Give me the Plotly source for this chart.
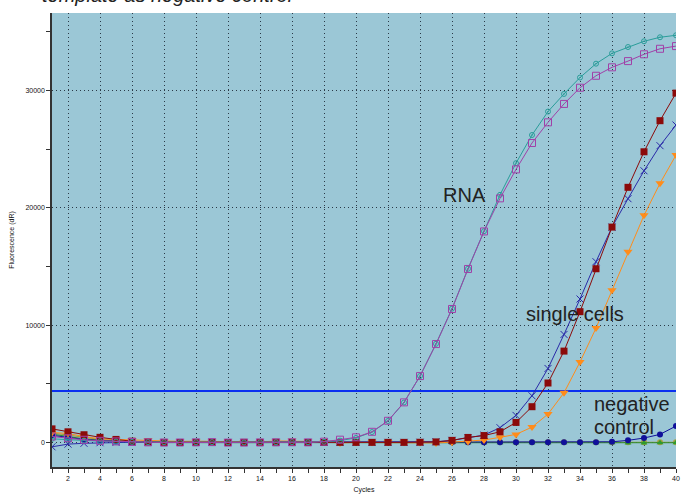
import plotly.graph_objects as go

cycles = list(range(1, 41))

rna_a = [300, 220, 150, 100, 70, 40, 20, 10, 0, 10, 20, 0, -10, 0, 10, 20, 10, 50, 150, 380,
         880, 1820, 3400, 5650, 8400, 11400, 14800, 18000, 21100, 23800,
         26200, 28200, 29700, 31100, 32280, 33160, 33700, 34190, 34530, 34700]
rna_b = [500, 350, 220, 130, 80, 30, 0, -20, -10, 0, 20, -20, -20, -10, 0, 10, 0, 60, 230, 430,
         900, 1840, 3410, 5650, 8380, 11370, 14780, 17980, 20800, 23270,
         25520, 27280, 28850, 30230, 31250, 31970, 32500, 33080, 33550, 33780]
cell_a = [1150, 900, 650, 430, 250, 100, 30, 0, -10, 0, 10, -10, 0, 0, 10, 0, -10, 0, 0, 0,
          0, 0, 0, 10, 40, 170, 420, 580, 900, 1700,
          3040, 5060, 7780, 11140, 14800, 18350, 21740, 24770, 27420, 29770]
cell_b = [-380, -150, -80, -30, 0, 10, 0, 0, 0, 0, 0, 0, 0, 0, 0, 0, 0, 0, 0, 0,
          0, 0, 0, 10, 50, 170, 370, 620, 1250, 2300,
          3970, 6300, 9200, 12220, 15400, 18350, 20770, 23150, 25290, 27050]
cell_c = [850, 750, 500, 300, 250, 200, 150, 120, 80, 100, 80, 50, 30, 30, 120, 130, 80, 30, -50, 0,
          0, 0, 0, -20, -50, 20, 80, 200, 430, 680,
          1300, 2410, 4230, 6850, 9740, 12960, 16250, 19350, 22080, 24490]
neg_a = [600, 400, 250, 150, 80, 30, 10, 0, 0, 0, 0, 0, 0, 0, 0, 0, 0, 0, 0, 0,
         0, 0, 0, 0, 0, 0, 0, 0, 0, 0,
         0, 0, 0, 0, 10, 50, 170, 370, 680, 1390]
neg_b = [700, 500, 300, 180, 100, 50, 0, -20, -30, -20, -30, -20, -30, -30, -20, -30, -20, -30, -30, -30,
         -30, -30, -30, -30, -30, -30, -30, -30, -30, -30,
         -30, -30, -30, -30, -30, -30, -50, -60, -40, -30]
neg_c = [800, 600, 400, 250, 150, 80, 30, 10, 0, 10, 0, 10, 0, 10, 0, 10, 0, 10, 0, 10,
         10, 10, 10, 10, 10, 10, 10, 10, 10, 10,
         10, 10, 10, 10, 10, 10, 10, 10, 10, 10]
threshold = 4370

x_ticks = list(range(2, 41, 2))
y_ticks = [0, 10000, 20000, 30000]

fig = go.Figure()

fig.add_trace(go.Scatter(x=[cycles[0], cycles[-1]], y=[threshold, threshold], mode="lines",
                         line=dict(color="#0a2ff0", width=2), hoverinfo="skip"))

series = [
    (neg_c, "#a09a3a", dict(symbol="circle", size=6, color="#a8a040")),
    (neg_b, "#2e8b2e", dict(symbol="triangle-up", size=6, color="#2e9b2e")),
    (neg_a, "#10109a", dict(symbol="circle", size=6, color="#10109a")),
    (cell_c, "#ff8c1a", dict(symbol="triangle-down", size=8, color="#ff8c1a")),
    (cell_b, "#2a2aa8", dict(symbol="x-thin-open", size=7, color="#2a2aa8", line=dict(width=1, color="#2a2aa8"))),
    (cell_a, "#8b0a0a", dict(symbol="square", size=7, color="#8b0a0a")),
    (rna_a, "#2a9d9a", dict(symbol="circle-dot", size=5, color="rgba(0,0,0,0)", line=dict(width=1, color="#2a9d9a"))),
    (rna_b, "#a040a8", dict(symbol="square-open", size=7, color="#a040a8", line=dict(width=1, color="#a040a8"))),
]
for ys, lc, mk in series:
    fig.add_trace(go.Scatter(x=cycles, y=ys, mode="lines+markers",
                             line=dict(color=lc, width=1), marker=mk))

txt_font = dict(family="Liberation Sans, Arial, sans-serif", size=20, color="#222222")
fig.add_annotation(x=26.8, y=21080, text="RNA", showarrow=False, font=txt_font,
                   xanchor="center", yanchor="middle")
fig.add_annotation(x=33.7, y=10930, text="single cells", showarrow=False, font=txt_font,
                   xanchor="center", yanchor="middle")
fig.add_annotation(x=34.75, y=3265, text="negative", showarrow=False, font=txt_font,
                   xanchor="left", yanchor="middle")
fig.add_annotation(x=34.75, y=1300, text="control", showarrow=False, font=txt_font,
                   xanchor="left", yanchor="middle")
fig.add_annotation(xref="paper", yref="paper", x=-0.019, y=1.011,
                   text="<i>template as negative control</i>", showarrow=False,
                   font=txt_font, xanchor="left", yanchor="bottom")

tick_font = dict(family="Liberation Sans, Arial, sans-serif", size=7, color="#111111")
grid_common = dict(showgrid=True, gridcolor="#2a3a48", griddash="1px,3px", gridwidth=1)
fig.update_layout(
    width=685, height=494,
    margin=dict(l=52, r=9, t=13, b=27),
    paper_bgcolor="white",
    plot_bgcolor="#9bc7d6",
    showlegend=False,
    xaxis=dict(range=[1, 40], tickvals=x_ticks, ticktext=[str(v) for v in x_ticks],
               ticks="outside", ticklen=4, tickcolor="#333", tickfont=tick_font,
               minor=dict(dtick=1, tick0=1, ticks="outside", ticklen=4, tickcolor="#333", showgrid=False),
               showline=True, linecolor="#333", linewidth=1.5, zeroline=False, automargin=False,
               title=dict(text="Cycles", font=tick_font, standoff=6), **grid_common),
    yaxis=dict(range=[-2100, 36600], tickvals=y_ticks, ticktext=[str(v) for v in y_ticks],
               ticks="outside", ticklen=4, tickcolor="#333", tickfont=tick_font,
               minor=dict(dtick=5000, tick0=0, ticks="outside", ticklen=4, tickcolor="#333", showgrid=False),
               showline=True, linecolor="#333", linewidth=1.5, zeroline=False, automargin=False,
               title=dict(text="Fluorescence (dR)", font=tick_font, standoff=10), **grid_common),
)

fig.write_html("out.html", config={"displayModeBar": False},
               post_script="document.body.style.margin='0';document.body.style.overflow='hidden';")
